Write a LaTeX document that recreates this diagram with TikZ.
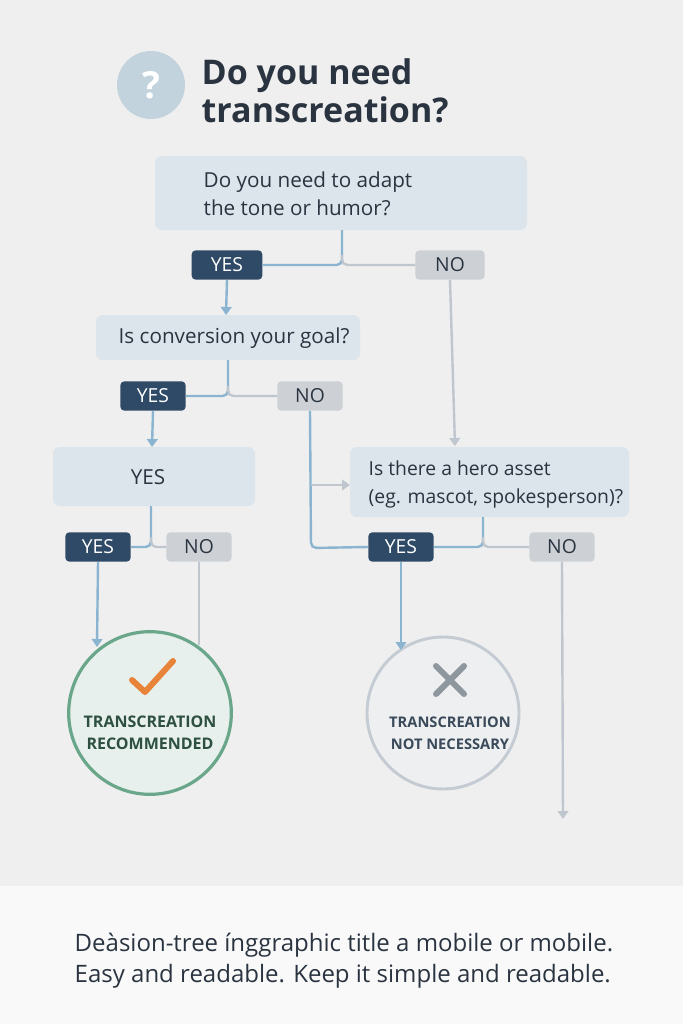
\documentclass[tikz,border=0pt]{standalone}
\usepackage{fontspec}
\setmainfont{Open Sans}
\usetikzlibrary{arrows.meta}
\definecolor{bg}{HTML}{EFEFEF}
\definecolor{boxf}{HTML}{DCE5EB}
\definecolor{dark}{HTML}{2E4A66}
\definecolor{nof}{HTML}{CDD1D6}
\definecolor{blu}{HTML}{8AB4D0}
\definecolor{gry}{HTML}{BFC6CE}
\definecolor{txt}{HTML}{2A3440}
\definecolor{grn}{HTML}{6AA68A}
\definecolor{grnf}{HTML}{E7F0EC}
\definecolor{c2d}{HTML}{C4CBD3}
\definecolor{c2f}{HTML}{EEEFF1}
\definecolor{org}{HTML}{E8833A}
\definecolor{xg}{HTML}{8E969E}
\definecolor{gt}{HTML}{2E5040}
\definecolor{st}{HTML}{3A4A5A}
\definecolor{qc}{HTML}{C3D3DD}
\begin{document}
\begin{tikzpicture}[x=0.75pt,y=-0.75pt,
  q/.style={fill=boxf,rounded corners=5pt,inner sep=0pt},
  qt/.style={anchor=west,align=left,text=txt,font=\fontsize{15.5}{21}\selectfont},
  yes/.style={fill=dark,rounded corners=3pt,text=white,font=\fontsize{14.5}{14}\selectfont,minimum width=49pt,minimum height=22pt,inner sep=0pt},
  no/.style={fill=nof,rounded corners=3pt,text=txt,font=\fontsize{14.5}{14}\selectfont,minimum width=49pt,minimum height=22pt,inner sep=0pt},
  bl/.style={draw=blu,line width=1.8pt,rounded corners=4pt},
  gl/.style={draw=gry,line width=1.8pt,rounded corners=4pt},
  arr/.style={-{Triangle[width=8pt,length=6pt]}}]
\useasboundingbox (0,0) rectangle (683,1024);
\fill[bg] (0,0) rectangle (683,886);
\fill[white!60!bg] (0,886) rectangle (683,1024);
% title
\node[circle,fill=qc,minimum size=51pt,text=white,font=\bfseries\fontsize{28}{28}\selectfont] (qm) at (151,85) {?};
\node[anchor=west,align=left,text=txt,font=\bfseries\fontsize{25.5}{28.5}\selectfont] (title) at (197,91) {Do you need\\transcreation?};
% boxes
\path[q] (155,156) rectangle (527,230); \coordinate (b1) at (342,230);
\node[qt] (t1) at (199,194) {Do you need to adapt\\the tone or humor?};
\path[q] (96,315) rectangle (360,360); \coordinate (b2) at (228,360);
\node[qt] (t2) at (114,338) {Is conversion your goal?};
\path[q] (53,447) rectangle (255,506); \coordinate (b3) at (151,506);
\node[text=txt,font=\fontsize{15.5}{16}\selectfont] (t3) at (148,477) {YES};
\path[q] (350,447) rectangle (629,517); \coordinate (b4) at (483,517);
\node[qt,font=\fontsize{14.5}{21}\selectfont] (t4) at (364,484) {Is there a hero asset\\(eg. mascot, spokesperson)?};
% labels
\node[yes,minimum width=53pt] (y1) at (227,265) {YES};
\node[no,minimum width=52pt] (n1) at (450,265) {NO};
\node[yes] (y2) at (153,396) {YES};
\node[no] (n2) at (310,396) {NO};
\node[yes] (y3) at (98,547) {YES};
\node[no] (n3) at (199,547) {NO};
\node[yes] (y4) at (401,547) {YES};
\node[no] (n4) at (562,547) {NO};
% circles
\node[circle,draw=grn,line width=2.4pt,fill=grnf,minimum size=122pt] (c1) at (150,713) {};
\node[circle,draw=c2d,line width=2.2pt,fill=c2f,minimum size=114pt] (c2) at (443,713) {};
\draw[org,line width=4.5pt,line cap=round,line join=round] (132,680) -- (145,692) -- (173,661);
\draw[xg,line width=4.5pt,line cap=round] (436,666) -- (464,694) (464,666) -- (436,694);
\node[align=center,text=gt,font=\bfseries\fontsize{12}{16.5}\selectfont] (c1t) at (150,733) {TRANSCREATION\\RECOMMENDED};
\node[align=center,text=st,font=\bfseries\fontsize{11}{16.5}\selectfont] (c2t) at (450,733) {TRANSCREATION\\NOT NECESSARY};
% connectors
\draw[bl] (b1) -- (342,265) -- (y1.east);
\draw[gl] (342,255) -- (342,265) -- (n1.west);
\draw[bl,arr] (y1.south) -- (226,315);
\draw[gl,arr] (n1.south) -- (455,446);
\draw[bl] (b2) -- (228,396) -- (y2.east);
\draw[gl] (228,386) -- (228,396) -- (n2.west);
\draw[bl,arr] (y2.south) -- (152,447);
\draw[bl] (b3) -- (151,547) -- (y3.east);
\draw[gl] (151,537) -- (151,547) -- (n3.west);
\draw[bl] (n2.south) -- (311,548) -- (y4.west);
\draw[gl,arr] (311,485) -- (350,485);
\draw[bl] (b4) -- (483,547) -- (y4.east);
\draw[gl] (483,537) -- (483,547) -- (n4.west);
\draw[bl,arr] (y3.south) -- (97,647);
\draw[gl] (n3.south) -- (199,645);
\draw[bl,arr] (y4.south) -- (401,650);
\draw[gl,arr] (n4.south) -- (563,819);
% footer
\node[anchor=west,align=left,text=txt,font=\fontsize{18}{23.5}\selectfont] (foot) at (70,961) {Deàsion-tree ínggraphic title a mobile or mobile.\\Easy and readable. Keep it simple and readable.};
\end{tikzpicture}
\end{document}
